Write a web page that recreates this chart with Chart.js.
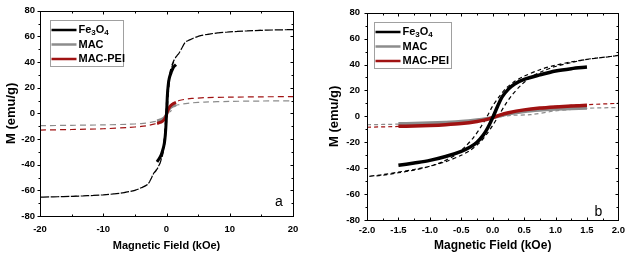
<!DOCTYPE html>
<html>
<head>
<meta charset="utf-8">
<script src="https://cdn.jsdelivr.net/npm/chart.js@4/dist/chart.umd.min.js"></script>
<style>
  body { margin: 0; background: #fff; }
  .row { display: flex; width: 630px; height: 256px; }
  canvas { display: block; }
</style>
</head>
<body>
<div class="row">
  <canvas id="chartA" width="310" height="256"></canvas>
  <canvas id="chartB" width="320" height="256"></canvas>
</div>
<script>
// Fe3O4, measured part (solid, +-1.5 kOe)
const fe3o4H = [-1.5, -1.25, -1, -0.75, -0.5, -0.35, -0.25, -0.15, -0.08, 0, 0.08, 0.15, 0.25, 0.35, 0.5, 0.75, 1, 1.25, 1.5];
const fe3o4M = [-37.8, -36, -34, -31, -27, -23.5, -20, -14.5, -9, -1, 8, 15, 21, 25, 28.5, 32, 35, 36.8, 38];

// Fe3O4 full loop (dashed): down branch then up branch
const fe3o4LoopH = [20, 15, 10, 7, 5, 4, 3, 2.5, 2, 1.75, 1.5, 1.25, 1, 0.75, 0.5, 0.35, 0.2, 0.1, 0, -0.1, -0.2, -0.3, -0.45, -0.6, -0.8, -1, -1.25, -1.5, -1.75, -2, -2.5, -3, -4, -5, -7, -10, -15, -20,
  -15, -10, -7, -5, -4, -3, -2.5, -2, -1.75, -1.5, -1.25, -1, -0.75, -0.5, -0.35, -0.2, -0.1, 0, 0.1, 0.2, 0.3, 0.45, 0.6, 0.8, 1, 1.25, 1.5, 1.75, 2, 2.5, 3, 4, 5, 7, 10, 15, 20];
const fe3o4LoopM = [65.3, 64.7, 63.5, 62, 60, 58, 55.5, 51.5, 47, 45.5, 44, 42, 39.5, 36, 31, 27, 21, 15, 8, -1, -9, -16, -24, -30, -35, -38.5, -41.5, -43.5, -45.5, -46.5, -51.5, -55.5, -58, -60, -62, -63.5, -64.7, -65.3,
  -64.7, -63.5, -62, -60, -58, -55.5, -51.5, -46.5, -45, -43, -41, -38.5, -35, -30, -26, -20, -14, -7, 1, 9, 16, 24, 30, 35, 38.5, 41.5, 44, 45.5, 47, 51.5, 55.5, 58, 60, 62, 63.5, 64.7, 65.3];

// MAC
const macH = [-1.5, -1.25, -1, -0.75, -0.5, -0.25, -0.1, 0, 0.1, 0.25, 0.5, 0.75, 1, 1.25, 1.5];
const macM = [-5.8, -5.6, -5.2, -4.7, -4, -2.8, -1.8, -0.8, 0.3, 2, 3.8, 4.9, 5.6, 6.1, 6.5];
const macLoopH = [-20, -15, -10, -6, -4, -3, -2, -1.5, -1, -0.5, 0, 0.3, 0.6, 1, 1.5, 2, 3, 4, 6, 10, 15, 20];
const macLoopM = [-9.6, -9.3, -9, -8.5, -8, -7.4, -6.5, -6, -5.2, -3.8, -1, 0.8, 1.3, 4.2, 6.2, 6.8, 7.6, 8.2, 8.8, 9.3, 9.6, 9.8];

// MAC-PEI
const peiH = [-1.5, -1.25, -1, -0.75, -0.5, -0.25, -0.1, 0, 0.1, 0.25, 0.5, 0.75, 1, 1.25, 1.5];
const peiM = [-7.7, -7.5, -7.1, -6.5, -5.6, -4, -2.5, -1, 0.8, 2.8, 5, 6.4, 7.3, 8, 8.5];
const peiLoopH = [-20, -15, -10, -6, -4, -3, -2, -1.5, -1, -0.5, -0.2, 0, 0.2, 0.5, 1, 1.5, 2, 3, 4, 6, 10, 15, 20];
const peiLoopM = [-13, -12.6, -12, -11, -10.2, -9.5, -8.4, -7.8, -7, -5.5, -3.2, -1, 1.5, 5.2, 7.8, 9, 10, 11, 11.6, 12.2, 12.6, 12.9, 13];

const seriesNames = ['Fe3O4', 'MAC', 'MAC-PEI'];

// ticks
const yMajor = [-80, -60, -40, -20, 0, 20, 40, 60, 80];
const yMinor = [-70, -50, -30, -10, 10, 30, 50, 70];
const xMajorA = [-20, -10, 0, 10, 20];
const xMinorA = [-15, -5, 5, 15];
const xMajorB = [-2, -1.5, -1, -0.5, 0, 0.5, 1, 1.5, 2];
const xMinorB = [-1.75, -1.25, -0.75, -0.25, 0.25, 0.75, 1.25, 1.75];

const BLACK = '#000000';
const GREY = '#8c8c8c';
const RED = '#a01212';
const FONT = '"Liberation Sans", Arial, sans-serif';

Chart.defaults.font.family = FONT;
Chart.defaults.color = '#000';

const pts = (xs, ys) => xs.map((x, i) => ({ x: x, y: ys[i] }));

const frame = {
  id: 'frame',
  afterDraw(chart, args, opts) {
    const { ctx, chartArea: { left, right, top, bottom }, scales: { x, y } } = chart;
    const sx = (v) => Math.round(x.getPixelForValue(v)) + 0.5;
    const sy = (v) => Math.round(y.getPixelForValue(v)) + 0.5;
    const L = Math.round(left) + 0.5, R = Math.round(right) + 0.5;
    const T = Math.round(top) + 0.5, B = Math.round(bottom) + 0.5;
    ctx.save();
    ctx.strokeStyle = '#000';
    ctx.lineWidth = 1;
    ctx.strokeRect(L, T, R - L, B - T);
    ctx.beginPath();
    const xt = (v, len) => {
      ctx.moveTo(sx(v), B); ctx.lineTo(sx(v), B - len);
      ctx.moveTo(sx(v), T); ctx.lineTo(sx(v), T + len);
    };
    const yt = (v, len) => {
      ctx.moveTo(L, sy(v)); ctx.lineTo(L - len, sy(v));
      ctx.moveTo(R, sy(v)); ctx.lineTo(R - len, sy(v));
    };
    opts.xMajor.forEach((v) => xt(v, 3));
    opts.xMinor.forEach((v) => xt(v, 2));
    yMajor.forEach((v) => yt(v, 3));
    yMinor.forEach((v) => yt(v, 2));
    ctx.stroke();

    // panel letter
    ctx.font = '14px ' + FONT;
    ctx.fillStyle = '#000';
    ctx.textAlign = 'center';
    ctx.textBaseline = 'middle';
    ctx.fillText(opts.letter, right - opts.letterDx, bottom - opts.letterDy);
    ctx.restore();
  },
};

const legendBox = {
  id: 'legendBox',
  afterDraw(chart, args, opts) {
    const { ctx, chartArea: { left, top } } = chart;
    const bx = Math.round(left + opts.dx) + 0.5;
    const by = Math.round(top + 9) + 0.5;
    ctx.save();
    ctx.fillStyle = '#fff';
    ctx.strokeStyle = '#a0a0a0';
    ctx.lineWidth = 1;
    ctx.fillRect(bx, by, opts.w, 46);
    ctx.strokeRect(bx, by, opts.w, 46);
    const colors = [BLACK, GREY, RED];
    ctx.textBaseline = 'middle';
    ctx.textAlign = 'left';
    seriesNames.forEach((name, i) => {
      const ry = by + 9.5 + i * 14.5;
      ctx.strokeStyle = colors[i];
      ctx.lineWidth = 2.5;
      ctx.beginPath();
      ctx.moveTo(bx + 1, ry);
      ctx.lineTo(bx + 26, ry);
      ctx.stroke();
      ctx.fillStyle = '#000';
      let tx = bx + 28;
      if (name === 'Fe3O4') {
        // subscripts
        [['Fe', 0], ['3', 1], ['O', 0], ['4', 1]].forEach(([s, sub]) => {
          ctx.font = sub ? 'bold 8px ' + FONT : 'bold 11px ' + FONT;
          ctx.fillText(s, tx, ry + (sub ? 3 : 0));
          tx += ctx.measureText(s).width;
        });
      } else {
        ctx.font = 'bold 11px ' + FONT;
        ctx.fillText(name, tx, ry);
      }
    });
    ctx.restore();
  },
};

function makeDatasets(dash, solidWidth) {
  const common = { showLine: true, pointRadius: 0, tension: 0.3, fill: false };
  return [
    { ...common, label: 'Fe3O4', data: pts(fe3o4H, fe3o4M), borderColor: BLACK, borderWidth: solidWidth, order: 0 },
    { ...common, label: 'MAC-PEI', data: pts(peiH, peiM), borderColor: RED, borderWidth: solidWidth, order: 1 },
    { ...common, label: 'MAC', data: pts(macH, macM), borderColor: GREY, borderWidth: solidWidth, order: 2 },
    { ...common, label: 'Fe3O4 fit', data: pts(fe3o4LoopH, fe3o4LoopM), borderColor: BLACK, borderWidth: 1.2, borderDash: dash, order: 3 },
    { ...common, label: 'MAC-PEI fit', data: pts(peiLoopH, peiLoopM), borderColor: RED, borderWidth: 1.2, borderDash: dash, order: 4 },
    { ...common, label: 'MAC fit', data: pts(macLoopH, macLoopM), borderColor: GREY, borderWidth: 1.2, borderDash: dash, order: 5 },
  ];
}

function makeChart(id, cfg) {
  return new Chart(document.getElementById(id), {
    type: 'scatter',
    data: { datasets: makeDatasets(cfg.dash, cfg.solidWidth) },
    options: {
      responsive: false,
      animation: false,
      layout: { padding: { top: 6, right: cfg.padRight, left: 0, bottom: 0 } },
      plugins: {
        legend: { display: false },
        tooltip: { enabled: false },
        frame: { xMajor: cfg.xMajor, xMinor: cfg.xMinor, letter: cfg.letter, letterDx: cfg.letterDx, letterDy: cfg.letterDy },
        legendBox: { dx: cfg.legendDx, w: cfg.legendW },
      },
      scales: {
        x: {
          type: 'linear',
          min: cfg.xMajor[0],
          max: cfg.xMajor[cfg.xMajor.length - 1],
          afterBuildTicks: (s) => { s.ticks = cfg.xMajor.map((v) => ({ value: v })); },
          afterFit: (s) => { s.height = cfg.xHeight; },
          grid: { display: false, drawTicks: false },
          border: { display: false },
          ticks: {
            padding: cfg.xPad,
            maxRotation: 0,
            autoSkip: false,
            font: { size: 9.5, weight: 'bold' },
            callback: cfg.xFormat,
          },
          title: {
            display: true,
            text: 'Magnetic Field (kOe)',
            font: { size: cfg.xTitleSize, weight: 'bold' },
            padding: { top: 0, bottom: 3 },
          },
        },
        y: {
          type: 'linear',
          min: -80,
          max: 80,
          afterBuildTicks: (s) => { s.ticks = yMajor.map((v) => ({ value: v })); },
          afterFit: (s) => { s.width = cfg.yWidth; },
          grid: { display: false, drawTicks: false },
          border: { display: false },
          ticks: {
            padding: cfg.yPad,
            autoSkip: false,
            font: { size: 9.5, weight: 'bold' },
          },
          title: {
            display: true,
            text: 'M (emu/g)',
            font: { size: 13, weight: 'bold' },
            padding: { top: cfg.yTitleTop, bottom: 0 },
          },
        },
      },
    },
    plugins: [frame, legendBox],
  });
}

makeChart('chartA', {
  dash: [6, 4], solidWidth: 3,
  xMajor: xMajorA, xMinor: xMinorA, xFormat: (v) => String(v),
  padRight: 17, xHeight: 40, yWidth: 40, xPad: 8, yPad: 5, yTitleTop: 4, xTitleSize: 11,
  legendDx: 10, legendW: 73,
  letter: 'a', letterDx: 14, letterDy: 14,
});

makeChart('chartB', {
  dash: [4, 3], solidWidth: 3.5,
  xMajor: xMajorB, xMinor: xMinorB, xFormat: (v) => Number(v).toFixed(1),
  padRight: 8, xHeight: 36, yWidth: 57, xPad: 5, yPad: 7, yTitleTop: 17, xTitleSize: 12,
  legendDx: 7, legendW: 77,
  letter: 'b', letterDx: 20, letterDy: 8,
});
</script>
</body>
</html>
